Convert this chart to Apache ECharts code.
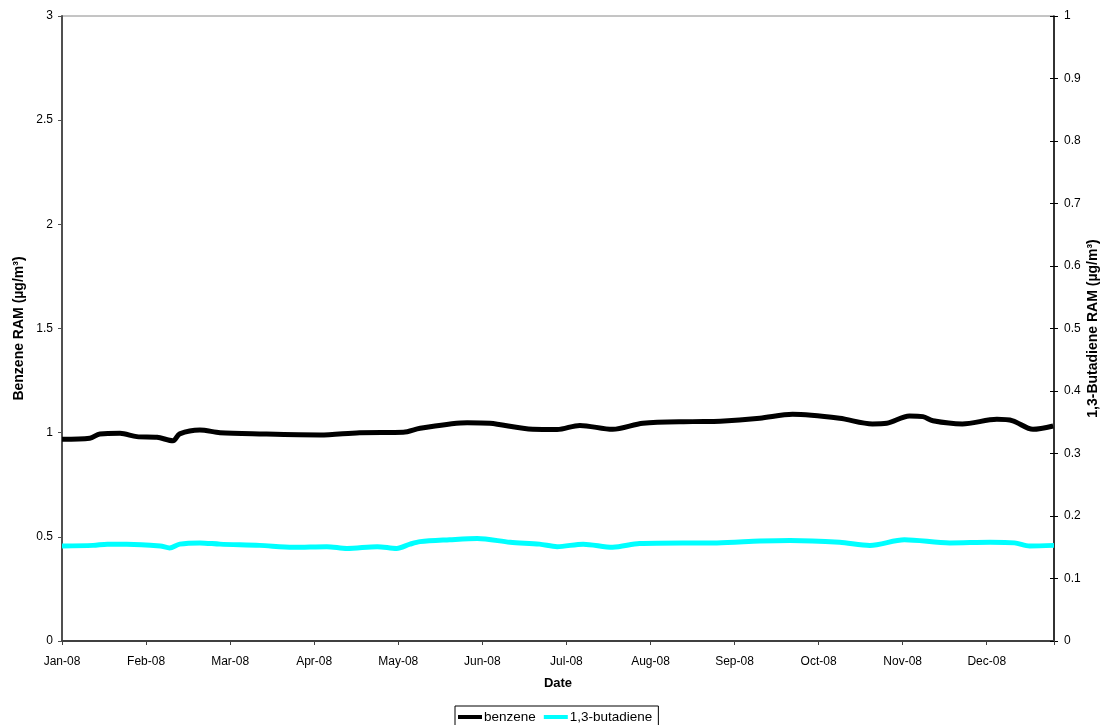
<!DOCTYPE html>
<html>
<head>
<meta charset="utf-8">
<style>
  html, body { margin: 0; padding: 0; background: #fff; }
  #chart { width: 1106px; height: 725px; }
</style>
<script src="https://cdn.jsdelivr.net/npm/echarts@6/dist/echarts.min.js"></script>
</head>
<body>
<div id="chart"></div>
<script>
// Month tick labels (x positions are months elapsed since 1 Jan 2008)
const monthLabels = ['Jan-08', 'Feb-08', 'Mar-08', 'Apr-08', 'May-08', 'Jun-08',
                     'Jul-08', 'Aug-08', 'Sep-08', 'Oct-08', 'Nov-08', 'Dec-08'];

// Benzene running annual mean (µg/m³), left axis
const benzeneMonths = [0, 0.33, 0.45, 0.69, 0.89, 1.13, 1.32, 1.40, 1.64, 1.88, 2.35, 3.07,
  3.54, 4.06, 4.26, 4.82, 5.09, 5.60, 5.89, 6.16, 6.55, 6.91, 7.50, 7.83, 8.30, 8.69,
  9.25, 9.64, 9.81, 10.08, 10.24, 10.36, 10.71, 11.12, 11.31, 11.55, 11.79];
const benzeneValues = [0.968, 0.973, 0.994, 0.997, 0.981, 0.978, 0.961, 0.994, 1.013, 1.000, 0.994, 0.989,
  1.000, 1.002, 1.021, 1.048, 1.045, 1.016, 1.015, 1.035, 1.016, 1.045, 1.053, 1.055, 1.069, 1.088,
  1.069, 1.042, 1.045, 1.080, 1.077, 1.057, 1.042, 1.064, 1.057, 1.016, 1.032];

// 1,3-butadiene running annual mean (µg/m³), right axis
const butadieneMonths = [0, 0.37, 0.54, 0.77, 1.17, 1.28, 1.40, 1.64, 1.88, 2.35, 2.75, 3.15,
  3.39, 3.75, 3.98, 4.14, 4.26, 4.61, 4.94, 5.33, 5.68, 5.89, 6.20, 6.55, 6.87, 7.38,
  7.79, 8.30, 8.66, 9.25, 9.61, 10.02, 10.56, 11.04, 11.33, 11.51, 11.80];
const butadieneValues = [0.152, 0.153, 0.155, 0.155, 0.152, 0.149, 0.155, 0.157, 0.155, 0.153, 0.150, 0.151,
  0.148, 0.151, 0.148, 0.155, 0.159, 0.162, 0.164, 0.158, 0.155, 0.151, 0.155, 0.150, 0.156, 0.157,
  0.157, 0.160, 0.161, 0.158, 0.153, 0.162, 0.157, 0.158, 0.157, 0.152, 0.153];

const pairs = (xs, ys) => xs.map((x, i) => [x, ys[i]]);

const FONT = '"Liberation Sans", Arial, sans-serif';
const chart = echarts.init(document.getElementById('chart'), null, { renderer: 'canvas' });

const titleStyle = { fontFamily: FONT, fontSize: 14, fontWeight: 'bold', color: '#000' };

chart.setOption({
  animation: false,
  backgroundColor: '#ffffff',
  textStyle: { fontFamily: FONT, color: '#000' },
  grid: {
    left: 62, right: 52, top: 16, bottom: 84,
    outerBoundsMode: 'none',
    containLabel: false,
    show: true, borderColor: '#8a8a8a', borderWidth: 1, backgroundColor: '#fff'
  },
  legend: {
    left: 455, top: 706,
    padding: [4, 6, 5, 3],
    borderColor: '#000', borderWidth: 1,
    itemGap: 8, itemWidth: 24, itemHeight: 4,
    icon: 'rect',
    textStyle: { fontFamily: FONT, fontSize: 13.5, color: '#000', padding: [0, 0, 0, -3] },
    data: ['benzene', '1,3-butadiene']
  },
  xAxis: {
    type: 'value',
    min: 0, max: 11.8, interval: 1,
    name: 'Date',
    nameLocation: 'middle',
    nameGap: 36,
    nameMoveOverlap: false,
    nameTextStyle: { fontFamily: FONT, fontSize: 13, fontWeight: 'bold', color: '#000' },
    axisLine: { show: true, lineStyle: { color: '#404040', width: 2 } },
    axisTick: { show: true, length: 4, lineStyle: { color: '#404040' } },
    axisLabel: {
      fontFamily: FONT, fontSize: 12, color: '#000', margin: 15,
      formatter: v => (Number.isInteger(v) && v < monthLabels.length) ? monthLabels[v] : ''
    },
    splitLine: { show: false }
  },
  yAxis: [
    {
      type: 'value', position: 'left',
      min: 0, max: 3, interval: 0.5,
      name: 'Benzene RAM (µg/m³)',
      nameLocation: 'middle', nameRotate: 90, nameGap: 36,
      nameMoveOverlap: false,
      nameTextStyle: titleStyle,
      axisLine: { show: true, lineStyle: { color: '#505050', width: 2 } },
      axisTick: { show: true, length: 4, lineStyle: { color: '#505050' } },
      axisLabel: { fontFamily: FONT, fontSize: 12, color: '#000', margin: 9 },
      splitLine: { show: false }
    },
    {
      type: 'value', position: 'right',
      min: 0, max: 1, interval: 0.1,
      name: '1,3-Butadiene RAM (µg/m³)',
      nameLocation: 'middle', nameRotate: 90, nameGap: 32,
      nameMoveOverlap: false,
      nameTextStyle: titleStyle,
      axisLine: { show: true, lineStyle: { color: '#000', width: 1.5 } },
      axisTick: { show: true, length: 4, lineStyle: { color: '#000' } },
      axisLabel: { fontFamily: FONT, fontSize: 12, color: '#000', margin: 10,
                   formatter: v => String(Math.round(v * 10) / 10) },
      splitLine: { show: false }
    },
    {
      // inner half of the right axis' crossing tick marks
      type: 'value', position: 'right',
      min: 0, max: 1, interval: 0.1,
      axisLine: { show: false },
      axisTick: { show: true, inside: true, length: 4, lineStyle: { color: '#000' } },
      axisLabel: { show: false },
      splitLine: { show: false }
    }
  ],
  series: [
    {
      name: 'benzene', type: 'line', yAxisIndex: 0,
      data: pairs(benzeneMonths, benzeneValues),
      smooth: 0.3, showSymbol: false,
      lineStyle: { color: '#000000', width: 5 },
      itemStyle: { color: '#000000' },
      z: 3
    },
    {
      name: '1,3-butadiene', type: 'line', yAxisIndex: 1,
      data: pairs(butadieneMonths, butadieneValues),
      smooth: 0.3, showSymbol: false,
      lineStyle: { color: '#00FFFF', width: 5 },
      itemStyle: { color: '#00FFFF' },
      z: 2
    }
  ]
});
</script>
</body>
</html>
